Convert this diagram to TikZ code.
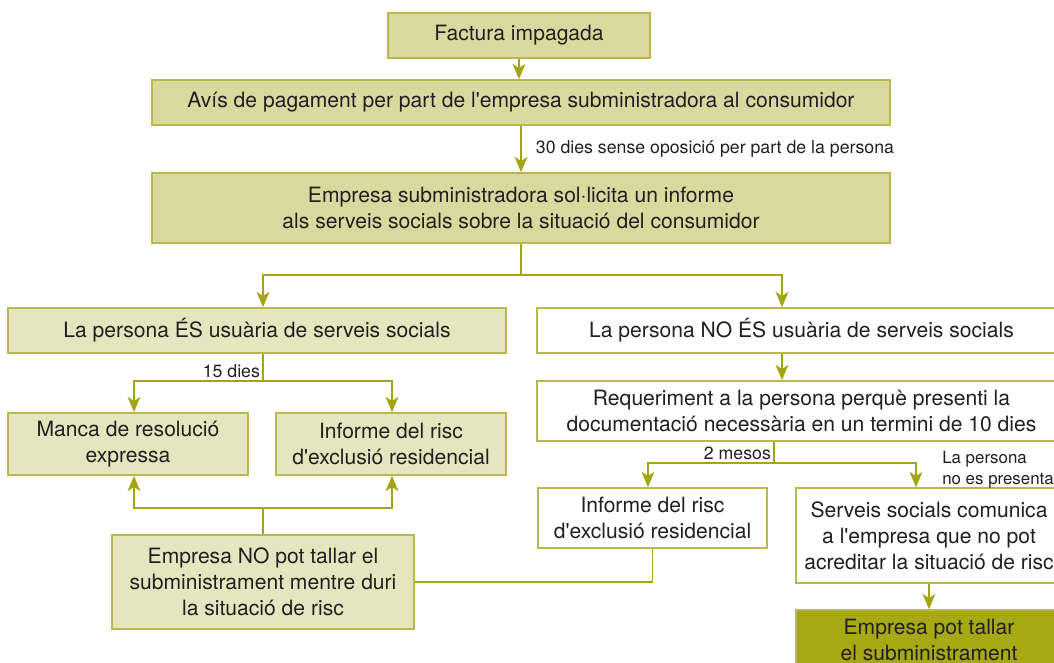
\documentclass[tikz,border=0pt]{standalone}
\usepackage{fontspec}
\setmainfont{TeX Gyre Heros}[Ligatures=TeXOff]
\usetikzlibrary{arrows.meta}
\definecolor{olivearrow}{HTML}{A3A612}
\definecolor{boxline}{HTML}{B9B84A}
\definecolor{darkfill}{HTML}{D9D89F}
\definecolor{lightfill}{HTML}{E6E5BF}
\definecolor{cutfill}{HTML}{A6A814}
\definecolor{ink}{HTML}{231F20}

\begin{document}
\begin{tikzpicture}[x=0.025cm,y=-0.025cm,
  box/.style={draw=boxline,line width=1.2pt,align=center,inner sep=0pt,text=ink,
    font=\fontsize{15}{18.5}\selectfont},
  boxdim/.style 2 args={minimum width=#1*0.025cm,minimum height=#2*0.025cm},
  darkbox/.style={box,fill=darkfill},
  lightbox/.style={box,fill=lightfill},
  whitebox/.style={box,fill=white},
  cutbox/.style={box,fill=cutfill},
  line/.style={draw=olivearrow,line width=1.2pt},
  conn/.style={line,-{Stealth[length=3.8mm,width=3.2mm,inset=1mm]}},
  note/.style={text=ink,font=\fontsize{12.6}{15}\selectfont,inner sep=2pt},
  smallnote/.style={text=ink,font=\fontsize{12}{15}\selectfont,inner sep=0pt,align=left}]
\useasboundingbox (0,0) rectangle (1054,663);

% Top chain
\node[darkbox,boxdim={262}{45}] (factura) at (519,35.5) {Factura impagada};
\node[darkbox,boxdim={738}{45}] (avis) at (521,102.5) {Avís de pagament per part de l'empresa subministradora al consumidor};
\node[darkbox,boxdim={738}{70}] (informe) at (521,208) {Empresa subministradora sol·licita un informe\\als serveis socials sobre la situació del consumidor};

\draw[conn] (factura.south) -- (factura.south |- avis.north);
\draw[conn] (avis.south) -- (avis.south |- informe.north)
  node[midway,right,note,xshift=8pt] {30 dies sense oposició per part de la persona};

% Two cases
\node[lightbox,boxdim={498}{45}] (usuaria) at (257,330.5) {La persona ÉS usuària de serveis socials};
\node[whitebox,boxdim={529}{45}] (nousuaria) at (801.5,330.5) {La persona NO ÉS usuària de serveis socials};

\coordinate (splitL) at (263,275);
\coordinate (splitR) at (782,275);
\draw[conn] (informe.south) |- (splitL) -- (splitL |- usuaria.north);
\draw[conn] (informe.south) |- (splitR) -- (splitR |- nousuaria.north);

% Left branch
\node[lightbox,boxdim={240}{62}] (manca) at (128,444) {Manca de resolució\\expressa};
\node[lightbox,boxdim={230}{62}] (risca) at (391,444) {Informe del risc\\d'exclusió residencial};
\node[lightbox,boxdim={302}{94}] (notall) at (263,582) {Empresa NO pot tallar el\\subministrament mentre duri\\la situació de risc};

\coordinate (fifteen) at (263,381);
\coordinate (toManca) at (134,381);
\coordinate (toRiscA) at (392,381);
\draw[line] (usuaria.south -| fifteen) -- (fifteen);
\draw[conn] (fifteen) -- (toManca) -- (toManca |- manca.north);
\draw[conn] (fifteen) -- (toRiscA) -- (toRiscA |- risca.north);
\node[note,anchor=south east] (quinze) at (fifteen) {15 dies};

\coordinate (joinUp) at (263,508);
\coordinate (upManca) at (134,508);
\coordinate (upRiscA) at (392,508);
\draw[line] (notall.north) -- (joinUp);
\draw[conn] (joinUp) -- (upManca) -- (upManca |- manca.south);
\draw[conn] (joinUp) -- (upRiscA) -- (upRiscA |- risca.south);

% Right branch
\node[whitebox,boxdim={529}{60}] (requeriment) at (801.5,411) {Requeriment a la persona perquè presenti la\\documentació necessària en un termini de 10 dies};
\node[whitebox,boxdim={229}{60}] (riscb) at (652.5,518) {Informe del risc\\d'exclusió residencial};
\node[whitebox,boxdim={266}{95}] (comunica) at (929,535.5) {Serveis socials comunica\\a l'empresa que no pot\\acreditar la situació de risc};
\node[cutbox,boxdim={266}{60}] (talla) at (929,640) {Empresa pot tallar\\el subministrament};

\draw[conn] (nousuaria.south -| splitR) -- (splitR |- requeriment.north);

\coordinate (twoMonths) at (774,463);
\coordinate (toRiscB) at (648,463);
\coordinate (toComunica) at (916,463);
\draw[line] (requeriment.south -| twoMonths) -- (twoMonths);
\draw[conn] (twoMonths) -- (toRiscB) -- (toRiscB |- riscb.north);
\draw[conn] (twoMonths) -- (toComunica) -- (toComunica |- comunica.north);
\node[note,anchor=south east] (mesos) at (twoMonths) {2 mesos};
\node[smallnote,anchor=north west] (nopresenta) at (942,451) {La persona\\no es presenta};

\draw[line] (notall.east) -| (riscb.south);
\draw[conn] (comunica.south) -- (talla.north);

\end{tikzpicture}
\end{document}
